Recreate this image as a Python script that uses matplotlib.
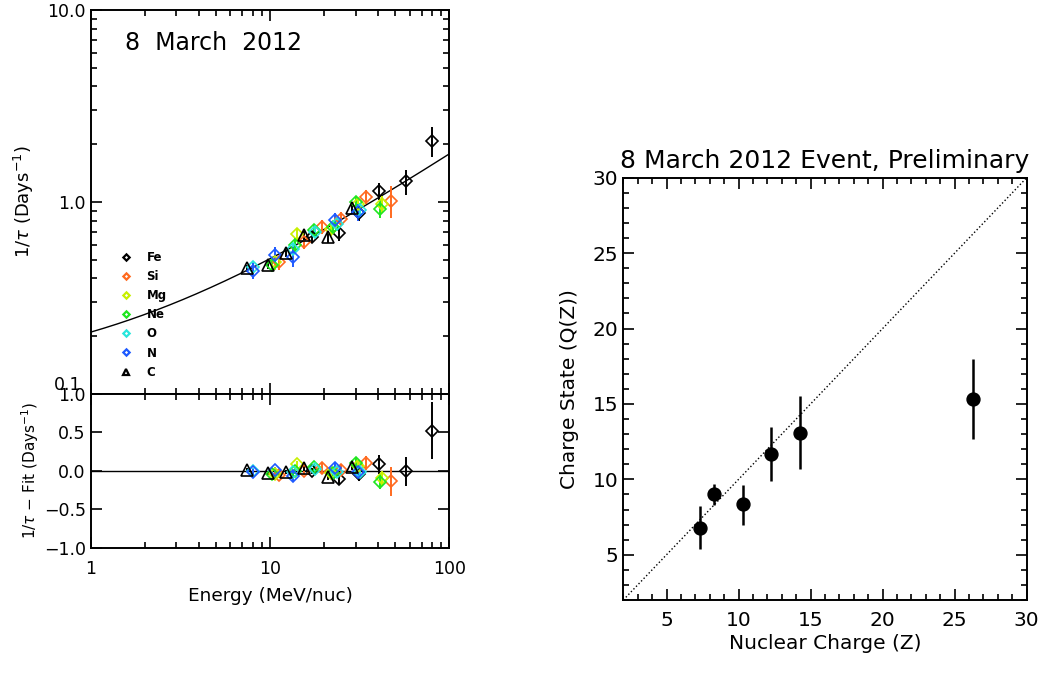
import numpy as np
import matplotlib
matplotlib.use("Agg")
import matplotlib.pyplot as plt
from matplotlib.lines import Line2D
from matplotlib.ticker import FixedLocator, FixedFormatter, LogLocator, NullFormatter, MultipleLocator

plt.rcParams['font.family'] = ['DejaVu Sans']
plt.rcParams['mathtext.fontset'] = 'dejavusans'

# ---------------- data: left panel (1/tau vs energy) ----------------
fe_E = [17.1, 24.4, 31.5, 40.4, 57.1, 79.8]
fe_y = [0.66, 0.69, 0.873, 1.14, 1.28, 2.08]
fe_err = [0.04, 0.06, 0.08, 0.12, 0.19, 0.37]

si_E = [11.2, 15.4, 19.4, 24.9, 34.3, 47.2]
si_y = [0.485, 0.62, 0.745, 0.82, 1.065, 1.015]
si_err = [0.04, 0.05, 0.06, 0.07, 0.09, 0.19]

mg_E = [10.6, 14.1, 22.0, 30.8, 42.0]
mg_y = [0.485, 0.685, 0.725, 0.975, 0.98]
mg_err = [0.04, 0.05, 0.06, 0.08, 0.10]

ne_E = [10.2, 13.8, 17.5, 22.5, 30.3, 41.1]
ne_y = [0.47, 0.597, 0.715, 0.74, 1.0, 0.925]
ne_err = [0.04, 0.05, 0.05, 0.06, 0.08, 0.10]

o_E = [8.07, 13.5, 17.9, 23.5, 31.8]
o_y = [0.46, 0.57, 0.70, 0.77, 0.91]
o_err = [0.03, 0.04, 0.05, 0.06, 0.08]

n_E = [8.07, 10.7, 13.5, 23.0, 31.0]
n_y = [0.439, 0.53, 0.52, 0.806, 0.89]
n_err = [0.04, 0.05, 0.06, 0.07, 0.09]

c_E = [7.41, 9.78, 12.3, 15.5, 21.1, 28.6]
c_y = [0.452, 0.47, 0.545, 0.673, 0.655, 0.927]
c_err = [0.02, 0.02, 0.03, 0.04, 0.04, 0.05]

species = ['Fe', 'Si', 'Mg', 'Ne', 'O', 'N', 'C']
colors = ['#000000', '#ff6a1f', '#c8f000', '#1ee61e', '#28e6dc', '#1e5aff', '#000000']
markers = ['D', 'D', 'D', 'D', 'D', 'D', '^']
series_E = [fe_E, si_E, mg_E, ne_E, o_E, n_E, c_E]
series_y = [fe_y, si_y, mg_y, ne_y, o_y, n_y, c_y]
series_err = [fe_err, si_err, mg_err, ne_err, o_err, n_err, c_err]

# fit: 1/tau = a + b * E^c
fit_a, fit_b, fit_c = 0.12, 0.09, 0.633
def fit(E):
    return fit_a + fit_b * np.asarray(E, dtype=float) ** fit_c

# ---------------- data: right panel (charge state) ----------------
Z_pos = [7.3, 8.3, 10.3, 12.25, 14.25, 26.25]
Q = [6.8, 9.0, 8.35, 11.7, 13.1, 15.3]
Q_low = [5.4, 8.3, 7.0, 9.9, 10.7, 12.7]
Q_high = [8.25, 9.7, 9.6, 13.5, 15.5, 17.95]

# ---------------- figure ----------------
W, H = 1041, 689
fig = plt.figure(figsize=(W / 100, H / 100), dpi=100)

def fx(px):
    return px / W

def fy(py):
    return 1 - py / H

L0, L1 = 90.7, 449.3
ax1 = fig.add_axes([fx(L0), fy(394), fx(L1 - L0), fy(10) - fy(394)])
ax2 = fig.add_axes([fx(L0), fy(547.7), fx(L1 - L0), fy(394) - fy(547.7)], sharex=ax1)
ax3 = fig.add_axes([fx(623.3), fy(600), fx(1026.7 - 623.3), fy(177.7) - fy(600)])

for ax in (ax1, ax2, ax3):
    for s in ax.spines.values():
        s.set_linewidth(1.4)
    ax.tick_params(which='both', direction='in', top=True, right=True, width=1.2)
    ax.tick_params(which='major', length=8)
    ax.tick_params(which='minor', length=4)

MS_D, MS_T = 6.0, 8.5

# upper panel
Ecurve = np.logspace(0, 2, 300)
ax1.plot(Ecurve, fit(Ecurve), color='black', lw=1.0, zorder=1)
for name, col, mk, E, y, e in zip(species, colors, markers, series_E, series_y, series_err):
    ax1.errorbar(E, y, yerr=e, fmt=mk, ms=MS_T if mk == '^' else MS_D, mfc='none', mec=col,
                 mew=1.2, ecolor=col, elinewidth=1.4, capsize=0, zorder=3)
ax1.set_xscale('log')
ax1.set_yscale('log')
ax1.set_xlim(1, 100)
ax1.set_ylim(0.1, 10)
ax1.yaxis.set_major_locator(FixedLocator([0.1, 1.0, 10.0]))
ax1.yaxis.set_major_formatter(FixedFormatter(['0.1', '1.0', '10.0']))
ax1.yaxis.set_minor_locator(LogLocator(base=10, subs=np.arange(2, 10)))
ax1.yaxis.set_minor_formatter(NullFormatter())
ax1.xaxis.set_minor_locator(LogLocator(base=10, subs=np.arange(2, 10)))
ax1.tick_params(axis='x', labelbottom=False)
ax1.tick_params(axis='y', labelsize=12.5)
ax1.set_ylabel(r'$1/\tau$ (Days$^{-1}$)', fontsize=13, labelpad=8)
ax1.text(0.095, 0.945, '8  March  2012', transform=ax1.transAxes, fontsize=17,
         ha='left', va='top')

handles = [Line2D([], [], ls='none', marker=mk, ms=(3.2 if mk == 'D' else 5.0), mfc='none',
                  mec=col, mew=1.6) for col, mk in zip(colors, markers)]
leg = ax1.legend(handles, species, loc='upper left', bbox_to_anchor=(0.07, 0.385),
                 frameon=False, handlelength=1.0, handletextpad=1.2, labelspacing=0.52,
                 prop={'size': 8.5, 'weight': 'bold'}, borderaxespad=0)

# lower panel (residuals)
ax2.axhline(0, color='black', lw=1.0, zorder=1)
for name, col, mk, E, y, e in zip(species, colors, markers, series_E, series_y, series_err):
    res = np.asarray(y) - fit(E)
    ax2.errorbar(E, res, yerr=e, fmt=mk, ms=MS_T if mk == '^' else MS_D, mfc='none', mec=col,
                 mew=1.2, ecolor=col, elinewidth=1.4, capsize=0, zorder=3)
ax2.set_xscale('log')
ax2.set_xlim(1, 100)
ax2.set_ylim(-1.0, 1.0)
ax2.yaxis.set_major_locator(FixedLocator([-1.0, -0.5, 0.0, 0.5, 1.0]))
ax2.yaxis.set_major_formatter(FixedFormatter(['\u22121.0', '\u22120.5', '0.0', '0.5', '1.0']))
ax2.xaxis.set_major_locator(FixedLocator([1, 10, 100]))
ax2.xaxis.set_major_formatter(FixedFormatter(['1', '10', '100']))
ax2.xaxis.set_minor_locator(LogLocator(base=10, subs=np.arange(2, 10)))
ax2.xaxis.set_minor_formatter(NullFormatter())
ax2.tick_params(axis='both', labelsize=12.5)
ax2.tick_params(axis='x', pad=9)
ax2.set_ylabel(r'$1/\tau$ $-$ Fit (Days$^{-1}$)', fontsize=11, labelpad=2)
ax2.set_xlabel('Energy (MeV/nuc)', fontsize=13.3, labelpad=6)

# right panel
zz = np.array([2, 30])
ax3.plot(zz, zz, ls=':', color='black', lw=1.0)
Qa = np.asarray(Q)
yerr = [Qa - np.asarray(Q_low), np.asarray(Q_high) - Qa]
ax3.errorbar(Z_pos, Q, yerr=yerr, fmt='o', ms=9.3, color='black', elinewidth=1.8, capsize=0)
ax3.set_xlim(2, 30)
ax3.set_ylim(2, 30)
ax3.xaxis.set_major_locator(FixedLocator([5, 10, 15, 20, 25, 30]))
ax3.yaxis.set_major_locator(FixedLocator([5, 10, 15, 20, 25, 30]))
ax3.xaxis.set_minor_locator(MultipleLocator(1))
ax3.yaxis.set_minor_locator(MultipleLocator(1))
ax3.tick_params(axis='both', labelsize=14.5)
ax3.tick_params(axis='x', pad=8)
ax3.set_xlabel('Nuclear Charge (Z)', fontsize=14.5, labelpad=3)
ax3.set_ylabel('Charge State (Q(Z))', fontsize=14.5, labelpad=10)
ax3.set_title('8 March 2012 Event, Preliminary', fontsize=18, pad=7)

fig.canvas.draw()
lab = ax1.yaxis.get_major_ticks()[0].label1
lab.set_verticalalignment('bottom')
lab.set_x(-0.012)

fig.savefig('out.png', dpi=100)
